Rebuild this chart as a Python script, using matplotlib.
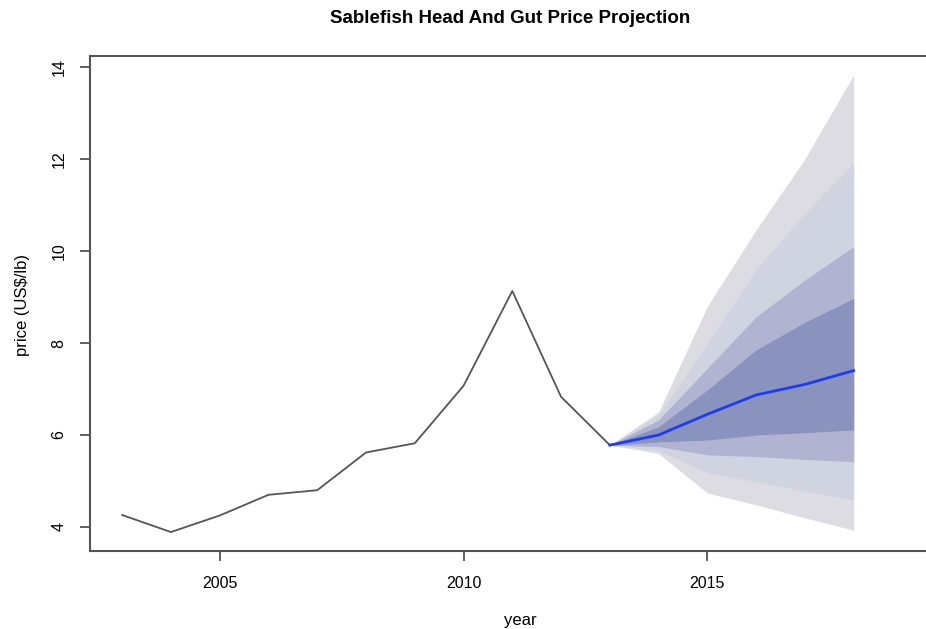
import matplotlib.pyplot as plt

# 历史价格
years = [2003, 2004, 2005, 2006, 2007, 2008, 2009, 2010, 2011, 2012, 2013]
price = [4.26, 3.89, 4.25, 4.70, 4.80, 5.62, 5.82, 7.07, 9.13, 6.83, 5.78]

# 预测及区间
fc_years = [2013, 2014, 2015, 2016, 2017, 2018]
fc_mean = [5.78, 6.00, 6.45, 6.87, 7.10, 7.40]
hi_99 = [5.78, 6.50, 8.80, 10.46, 12.00, 13.83]
hi_95 = [5.78, 6.43, 8.00, 9.60, 10.82, 11.91]
hi_80 = [5.78, 6.33, 7.45, 8.57, 9.37, 10.10]
hi_50 = [5.78, 6.18, 6.98, 7.85, 8.45, 8.97]
lo_50 = [5.78, 5.85, 5.89, 6.00, 6.05, 6.11]
lo_80 = [5.78, 5.75, 5.57, 5.53, 5.47, 5.42]
lo_95 = [5.78, 5.67, 5.17, 4.99, 4.78, 4.59]
lo_99 = [5.78, 5.60, 4.74, 4.48, 4.20, 3.93]

plt.rcParams['font.family'] = ['Liberation Sans', 'DejaVu Sans']

fig = plt.figure(figsize=(9.26, 6.29), dpi=100)
ax = fig.add_axes([0.0972, 0.124, 0.93, 0.787])

# 扇形区间，从外到内
bands = [
    (lo_99, hi_99, '#dcdce2'),
    (lo_95, hi_95, '#d0d3e0'),
    (lo_80, hi_80, '#b0b4d0'),
    (lo_50, hi_50, '#8a93be'),
]
for lo, hi, col in bands:
    ax.fill_between(fc_years, lo, hi, color=col, lw=0)

ax.plot(years, price, color='#555555', lw=1.3)
ax.plot(fc_years, fc_mean, color='#1f3cf0', lw=2)

ax.set_xlim(2002.34, 2020.0)
ax.set_ylim(3.478, 14.24)
ax.set_xticks([2005, 2010, 2015])
ax.set_yticks([4, 6, 8, 10, 12, 14])
ax.tick_params(direction='out', length=7, width=1.2, color='#444444',
               labelsize=11.5)
ax.tick_params(axis='x', pad=11)
ax.tick_params(axis='y', pad=10)
for lab in ax.get_yticklabels():
    lab.set_rotation(90)
    lab.set_va('center')
for s in ax.spines.values():
    s.set_color('#555555')
    s.set_linewidth(1.5)

# 坐标轴标题
fig.text(520 / 926, 1 - 620 / 629, 'year', fontsize=12, ha='center', va='center')
fig.text(23 / 926, 1 - 305 / 629, 'price (US$/lb)', fontsize=12,
         ha='center', va='center', rotation=90)
fig.text(0.551, 0.971, 'Sablefish Head And Gut Price Projection',
         ha='center', va='center', fontsize=13.5, fontweight='bold')

fig.savefig('out.png', dpi=100)
